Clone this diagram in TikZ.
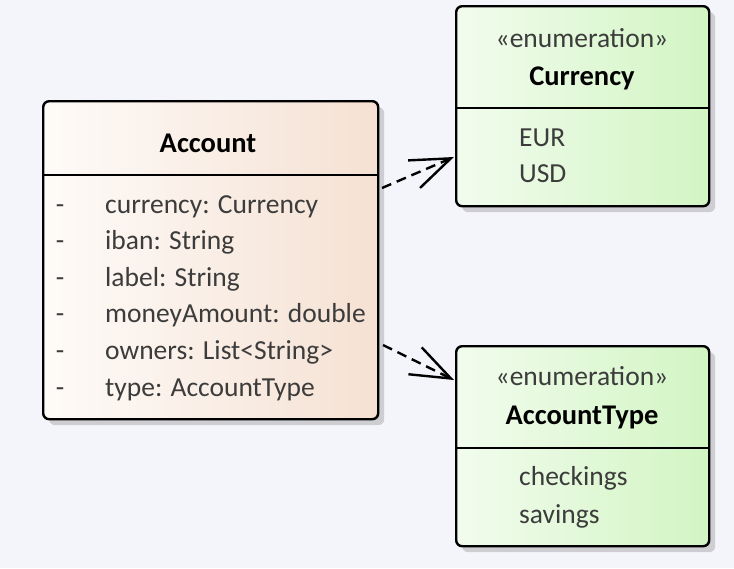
\documentclass[tikz,border=0pt]{standalone}
\usepackage{fontspec}
\setmainfont{Carlito}
\usetikzlibrary{arrows.meta,shadows}
\definecolor{bgc}{RGB}{244,245,250}
\definecolor{accL}{RGB}{254,251,248}
\definecolor{accR}{RGB}{245,225,211}
\definecolor{enL}{RGB}{242,252,238}
\definecolor{enR}{RGB}{210,245,195}
\definecolor{txt}{RGB}{60,60,60}
\definecolor{shd}{RGB}{205,205,210}
\tikzset{
  classbox/.style={draw=black, line width=2.4pt, rounded corners=6pt, rectangle,
    anchor=north west, inner sep=0pt,
    drop shadow={shadow xshift=6pt, shadow yshift=-6pt, fill=shd, opacity=1}},
  accbox/.style={classbox, left color=accL, right color=accR},
  enbox/.style={classbox, left color=enL, right color=enR},
  title/.style={font=\fontsize{28.5}{32}\selectfont\bfseries, text=black, anchor=base, inner sep=0pt},
  stereo/.style={font=\fontsize{27.5}{32}\selectfont, text=txt, anchor=base, inner sep=0pt},
  attr/.style={font=\fontsize{27.5}{32}\selectfont, text=txt, anchor=base west, inner sep=0pt},
  vis/.style={font=\fontsize{27.5}{32}\selectfont, text=txt, anchor=base, inner sep=0pt},
  divider/.style={line width=2.4pt},
  dep/.style={line width=2.4pt, dash pattern=on 10pt off 6pt,
    -{Straight Barb[length=40pt, width=30pt, line width=2.4pt]}}
}
\begin{document}
\begin{tikzpicture}[x=1pt, y=-1pt]
\useasboundingbox (0,0) rectangle (734,568);
\fill[bgc] (0,0) rectangle (734,568);

% Account
\node[accbox, minimum width=335pt, minimum height=318pt] (acc) at (42,100) {};
\draw[divider] (acc.west |- 0,175) -- (acc.east |- 0,175);
\node[title] (accT) at (208,152) {Account};
\foreach \i/\t in {0/{currency: Currency},1/{iban: String},2/{label: String},3/{moneyAmount: double},4/{owners: List<String>},5/{type: AccountType}}{
  \node[vis] (accV\i) at (60,213+36.6*\i) {-};
  \node[attr] (accA\i) at (105,213+36.6*\i) {\t};
}

% Currency
\node[enbox, minimum width=253pt, minimum height=200pt] (cur) at (455,5) {};
\draw[divider] (cur.west |- 0,108) -- (cur.east |- 0,108);
\node[stereo] (curS) at (582,47) {«enumeration»};
\node[title] (curT) at (582,85) {Currency};
\node[attr] (cur1) at (519,146) {EUR};
\node[attr] (cur2) at (519,182) {USD};

% AccountType
\node[enbox, minimum width=253pt, minimum height=200pt] (typ) at (455,345) {};
\draw[divider] (typ.west |- 0,448) -- (typ.east |- 0,448);
\node[stereo] (typS) at (582,385) {«enumeration»};
\node[title] (typT) at (582,424) {AccountType};
\node[attr] (typ1) at (519,485) {checkings};
\node[attr] (typ2) at (519,523) {savings};

% dependencies
\coordinate (d1s) at (382,188);
\coordinate (d1e) at (454,157);
\coordinate (d2s) at (383,345);
\coordinate (d2e) at (454,380);
\draw[dep] (d1s) -- (d1e);
\draw[dep] (d2s) -- (d2e);
\end{tikzpicture}
\end{document}
